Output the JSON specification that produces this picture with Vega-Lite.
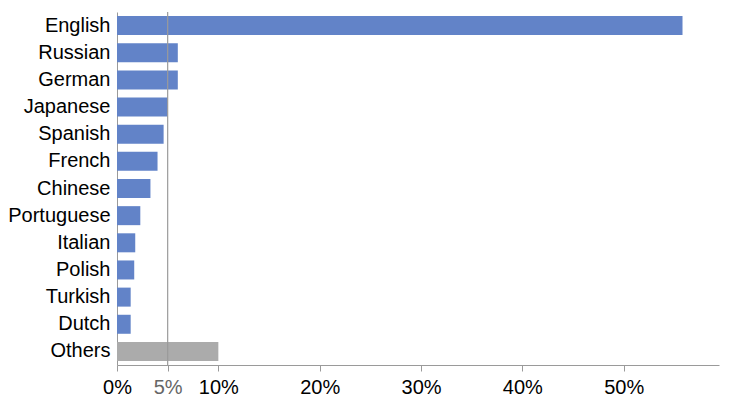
{
  "$schema": "https://vega.github.io/schema/vega-lite/v6.json",
  "autosize": {"type": "none"},
  "width": 602,
  "height": 353,
  "padding": {"left": 117, "top": 12, "right": 23, "bottom": 41},
  "background": "white",
  "config": {
    "view": {"stroke": null},
    "font": "Liberation Sans",
    "axis": {"grid": false, "domainColor": "#9a9a9a", "tickColor": "#9a9a9a", "labelFont": "Liberation Sans", "labelFontSize": 20, "labelColor": "#000000"}
  },
  "layer": [
    {
      "data": {
        "values": [
          {"language": "English", "share": 55.8, "kind": "language"},
          {"language": "Russian", "share": 6.0, "kind": "language"},
          {"language": "German", "share": 6.0, "kind": "language"},
          {"language": "Japanese", "share": 5.0, "kind": "language"},
          {"language": "Spanish", "share": 4.6, "kind": "language"},
          {"language": "French", "share": 4.0, "kind": "language"},
          {"language": "Chinese", "share": 3.3, "kind": "language"},
          {"language": "Portuguese", "share": 2.3, "kind": "language"},
          {"language": "Italian", "share": 1.8, "kind": "language"},
          {"language": "Polish", "share": 1.7, "kind": "language"},
          {"language": "Turkish", "share": 1.35, "kind": "language"},
          {"language": "Dutch", "share": 1.35, "kind": "language"},
          {"language": "Others", "share": 10.0, "kind": "other"}
        ]
      },
      "mark": {"type": "bar"},
      "encoding": {
        "y": {
          "field": "language",
          "type": "nominal",
          "sort": null,
          "scale": {"paddingInner": 0.3, "paddingOuter": 0.15},
          "axis": {"title": null, "ticks": false, "labelPadding": 7}
        },
        "x": {
          "field": "share",
          "type": "quantitative",
          "scale": {"domain": [0, 59.4], "nice": false},
          "axis": {
            "title": null,
            "values": [0, 5, 10, 20, 30, 40, 50],
            "labelExpr": "datum.value + '%'",
            "labelFlush": false,
            "labelOverlap": false,
            "tickSize": 6,
            "labelPadding": 6,
            "labelColor": {"condition": {"test": "datum.value == 5", "value": "#666666"}, "value": "#000000"}
          }
        },
        "color": {
          "field": "kind",
          "type": "nominal",
          "scale": {"domain": ["language", "other"], "range": ["#6283c8", "#ababab"]},
          "legend": null
        }
      }
    },
    {
      "data": {"values": [{"mark5": 5}]},
      "mark": {"type": "rule", "color": "#9a9a9a", "strokeWidth": 1.2},
      "encoding": {
        "x": {"field": "mark5", "type": "quantitative"}
      }
    }
  ]
}
